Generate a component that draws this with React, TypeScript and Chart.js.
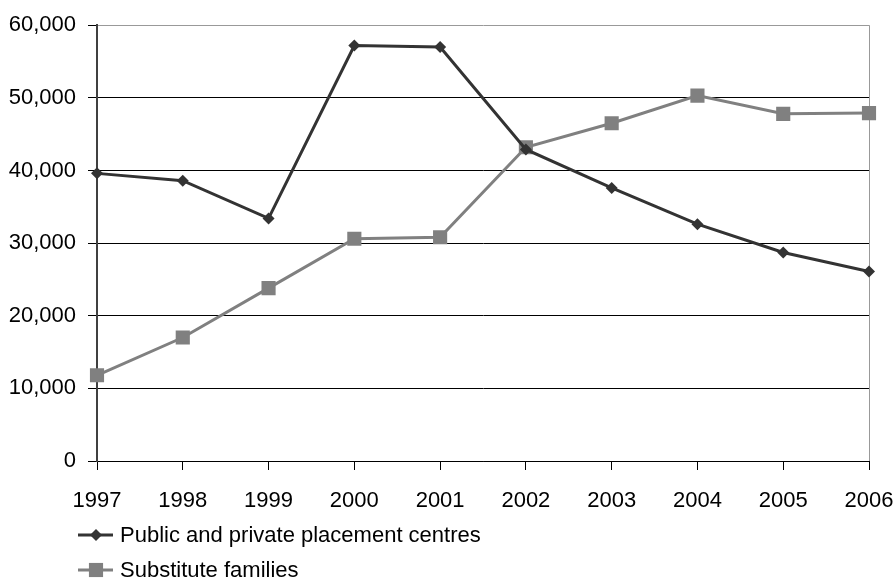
import React, { useEffect, useRef } from "react";
import { Chart, registerables } from "chart.js";

Chart.register(...registerables);

const years = ["1997", "1998", "1999", "2000", "2001", "2002", "2003", "2004", "2005", "2006"];
const placementCentres = [39600, 38600, 33400, 57200, 57000, 42900, 37600, 32600, 28700, 26100];
const substituteFamilies = [11800, 17000, 23800, 30600, 30800, 43200, 46500, 50300, 47800, 47900];

const DARK = "#333333";
const GREY = "#808080";
const FONT = "'Liberation Sans', Arial, sans-serif";

function drawMarker(ctx: CanvasRenderingContext2D, style: string, r: number, x: number, y: number) {
  ctx.beginPath();
  if (style === "rectRot") {
    ctx.moveTo(x, y - r);
    ctx.lineTo(x + r, y);
    ctx.lineTo(x, y + r);
    ctx.lineTo(x - r, y);
    ctx.closePath();
  } else {
    const s = r * Math.SQRT1_2;
    ctx.rect(x - s, y - s, 2 * s, 2 * s);
  }
  ctx.fill();
}

// Vertical legend drawn under the x axis labels
const bottomLegend = {
  id: "bottomLegend",
  afterDraw(chart: any) {
    const ctx = chart.ctx;
    const rows = [
      { label: "Public and private placement centres", color: DARK, style: "rectRot", r: 6 },
      { label: "Substitute families", color: GREY, style: "rect", r: 10 },
    ];
    const startY = chart.chartArea.bottom + 74;
    ctx.save();
    rows.forEach((row, i) => {
      const y = startY + i * 35;
      ctx.strokeStyle = row.color;
      ctx.lineWidth = 3;
      ctx.beginPath();
      ctx.moveTo(78, y);
      ctx.lineTo(113, y);
      ctx.stroke();
      ctx.fillStyle = row.color;
      drawMarker(ctx, row.style, row.r, 96, y);
      ctx.fillStyle = "#000";
      ctx.font = `22px ${FONT}`;
      ctx.textAlign = "left";
      ctx.textBaseline = "middle";
      ctx.fillText(row.label, 120, y + 1);
    });
    ctx.restore();
  },
};

export default function App() {
  const canvasRef = useRef<HTMLCanvasElement | null>(null);

  useEffect(() => {
    document.body.style.margin = "0";
    const canvas = canvasRef.current;
    if (!canvas) return;
    const chart = new Chart(canvas, {
      type: "line",
      data: {
        labels: years,
        datasets: [
          {
            label: "Public and private placement centres",
            data: placementCentres,
            borderColor: DARK,
            backgroundColor: DARK,
            borderWidth: 3,
            pointStyle: "rectRot",
            pointRadius: 6,
            pointBorderWidth: 0,
            tension: 0,
          },
          {
            label: "Substitute families",
            data: substituteFamilies,
            borderColor: GREY,
            backgroundColor: GREY,
            borderWidth: 3,
            pointStyle: "rect",
            pointRadius: 10,
            pointBorderWidth: 0,
            tension: 0,
          },
        ],
      },
      options: {
        animation: false,
        responsive: false,
        devicePixelRatio: 1,
        layout: { padding: { top: 23, right: 26, bottom: 63, left: 0 } },
        plugins: {
          legend: { display: false },
          tooltip: { enabled: false },
        },
        scales: {
          x: {
            offset: false,
            afterFit(scale: any) {
              scale.height = 60;
              scale.paddingRight = 0;
            },
            grid: {
              color: (c: any) => (c.index === years.length - 1 ? "#999999" : "rgba(0,0,0,0)"),
              tickColor: "#000",
              tickLength: 9,
              lineWidth: 1,
            },
            border: { color: "#000", width: 1 },
            ticks: {
              color: "#000",
              font: { family: FONT, size: 22 },
              padding: 18,
              maxRotation: 0,
            },
          },
          y: {
            min: 0,
            max: 60000,
            afterFit(scale: any) {
              scale.width = 97;
            },
            grid: {
              color: (c: any) => (c.tick && c.tick.value === 60000 ? "#999999" : "#000"),
              tickColor: "#000",
              tickLength: 9,
              lineWidth: 1,
            },
            border: { color: "#404040", width: 2 },
            ticks: {
              stepSize: 10000,
              color: "#000",
              font: { family: FONT, size: 22 },
              padding: 12,
              callback: (v: any) => Number(v).toLocaleString("en-US"),
            },
          },
        },
      },
      plugins: [bottomLegend],
    });
    return () => chart.destroy();
  }, []);

  return <canvas ref={canvasRef} width={895} height={584} style={{ display: "block" }} />;
}
